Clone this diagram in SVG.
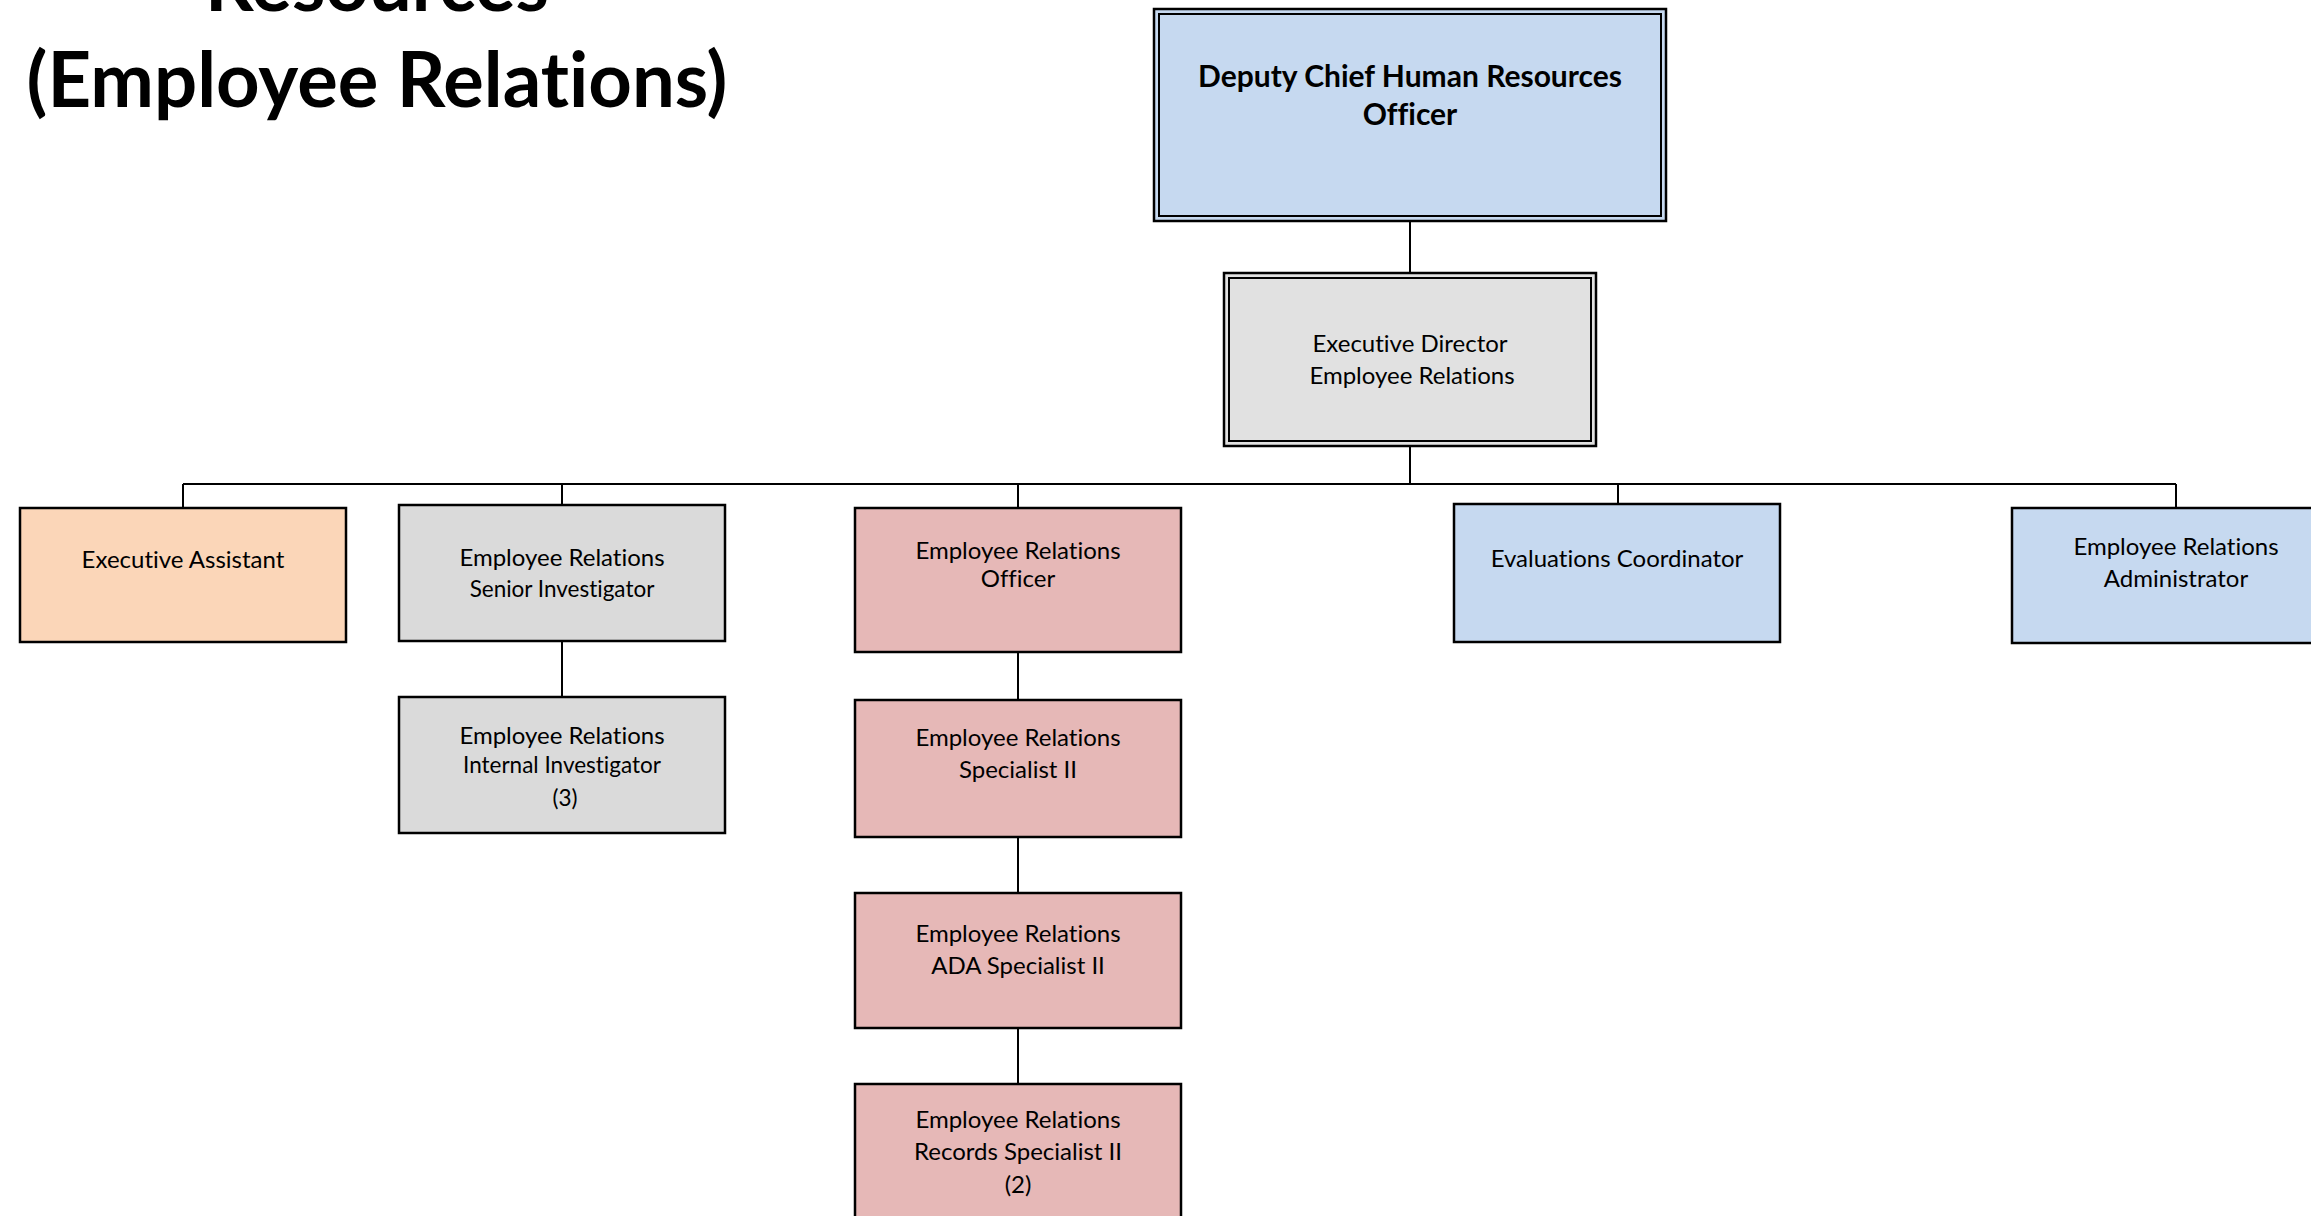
<svg xmlns="http://www.w3.org/2000/svg" width="2311" height="1216" viewBox="0 0 2311 1216">
<style>
.bx{stroke:#000;stroke-width:2.5}
.in{fill:none;stroke:#000;stroke-width:2}
.blue{fill:#c6d9f0}
.gray{fill:#dadada}
.gray2{fill:#e1e1e1}
.peach{fill:#fbd6b8}
.pink{fill:#e6b8b7}
text{font-variant-ligatures:none}
.t{font-family:Lato,"Open Sans","Liberation Sans",sans-serif;font-size:24px;fill:#000;text-anchor:middle}
.s{font-size:22.5px}
.b{font-weight:bold;font-size:30px}
.title{font-family:Lato,"Open Sans","Liberation Sans",sans-serif;font-weight:bold;font-size:76px;fill:#000;text-anchor:middle}
.c{stroke:#000;stroke-width:2;fill:none}
</style>
<rect width="2311" height="1216" fill="#fff"/>
<g id="title">
<text class="title" x="377" y="11">Resources</text>
<text class="title" x="377" y="107">(Employee Relations)</text>
</g>
<g id="connectors">
<line class="c" x1="1410" y1="221" x2="1410" y2="273"/>
<line class="c" x1="1410" y1="446" x2="1410" y2="484"/>
<line class="c" x1="183" y1="484" x2="2176" y2="484"/>
<line class="c" x1="183" y1="484" x2="183" y2="508"/>
<line class="c" x1="562" y1="484" x2="562" y2="505"/>
<line class="c" x1="1018" y1="484" x2="1018" y2="508"/>
<line class="c" x1="1618" y1="484" x2="1618" y2="504"/>
<line class="c" x1="2176" y1="484" x2="2176" y2="508"/>
<line class="c" x1="562" y1="641" x2="562" y2="697"/>
<line class="c" x1="1018" y1="652" x2="1018" y2="700"/>
<line class="c" x1="1018" y1="837" x2="1018" y2="893"/>
<line class="c" x1="1018" y1="1028" x2="1018" y2="1084"/>
</g>
<g id="deputy-chief">
<rect class="bx blue" x="1154" y="9" width="512" height="212"/>
<rect class="in" x="1159" y="14" width="502" height="202"/>
<text class="t b" x="1410" y="87">Deputy Chief Human Resources</text>
<text class="t b" x="1410" y="125">Officer</text>
</g>
<g id="executive-director">
<rect class="bx gray2" x="1224" y="273" width="372" height="173"/>
<rect class="in" x="1229" y="278" width="362" height="163"/>
<text class="t" x="1410" y="352">Executive Director</text>
<text class="t" x="1412" y="384">Employee Relations</text>
</g>
<g id="executive-assistant">
<rect class="bx peach" x="20" y="508" width="326" height="134"/>
<text class="t" x="183" y="568">Executive Assistant</text>
</g>
<g id="senior-investigator">
<rect class="bx gray" x="399" y="505" width="326" height="136"/>
<text class="t" x="562" y="566">Employee Relations</text>
<text class="t s" x="562" y="597">Senior  Investigator</text>
</g>
<g id="internal-investigator">
<rect class="bx gray" x="399" y="697" width="326" height="136"/>
<text class="t" x="562" y="744">Employee Relations</text>
<text class="t s" x="562" y="773">Internal Investigator</text>
<text class="t s" x="565" y="806">(3)</text>
</g>
<g id="er-officer">
<rect class="bx pink" x="855" y="508" width="326" height="144"/>
<text class="t" x="1018" y="559">Employee Relations</text>
<text class="t" x="1018" y="587">Officer</text>
</g>
<g id="er-specialist">
<rect class="bx pink" x="855" y="700" width="326" height="137"/>
<text class="t" x="1018" y="746">Employee Relations</text>
<text class="t" x="1018" y="778">Specialist II</text>
</g>
<g id="ada-specialist">
<rect class="bx pink" x="855" y="893" width="326" height="135"/>
<text class="t" x="1018" y="942">Employee Relations</text>
<text class="t" x="1018" y="974">ADA Specialist II</text>
</g>
<g id="records-specialist">
<rect class="bx pink" x="855" y="1084" width="326" height="150"/>
<text class="t" x="1018" y="1128">Employee Relations</text>
<text class="t" x="1018" y="1160">Records Specialist II</text>
<text class="t" x="1018" y="1193">(2)</text>
</g>
<g id="evaluations-coordinator">
<rect class="bx blue" x="1454" y="504" width="326" height="138"/>
<text class="t" x="1617" y="567">Evaluations Coordinator</text>
</g>
<g id="er-administrator">
<rect class="bx blue" x="2012" y="508" width="326" height="135"/>
<text class="t" x="2176" y="555">Employee Relations</text>
<text class="t" x="2176" y="587">Administrator</text>
</g>
</svg>
